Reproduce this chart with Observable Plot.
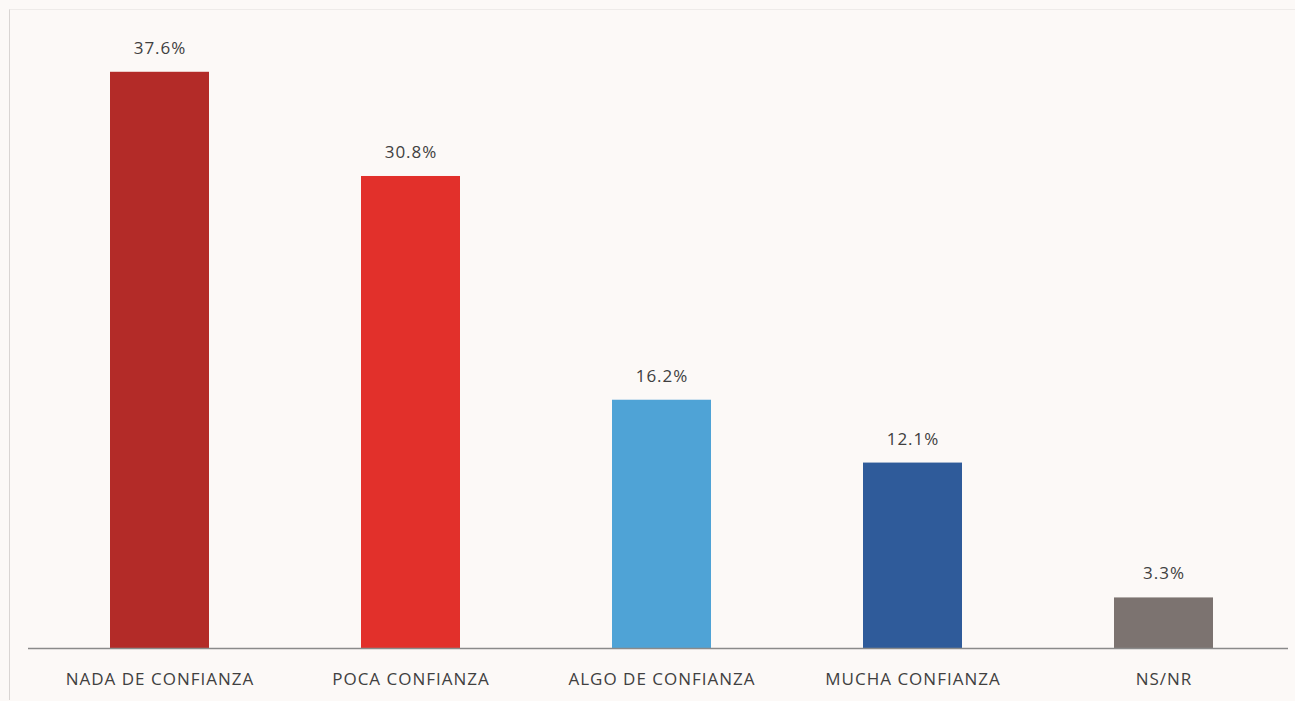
<!DOCTYPE html>
<html>
<head>
<meta charset="utf-8">
<script src="https://cdn.jsdelivr.net/npm/d3@7"></script>
<script src="https://cdn.jsdelivr.net/npm/@observablehq/plot@0.6"></script>
<style>
  html, body { margin: 0; padding: 0; background: #fcf9f7; }
  #wrap { position: relative; width: 1295px; height: 701px; }
  #frame { position: absolute; left: 9px; top: 9px; width: 1290px; height: 690px;
           border-left: 1px solid #d9d5d3; border-top: 1px solid #eeebe9; pointer-events: none; }
  svg { font-family: "Open Sans", "Liberation Sans", sans-serif; }
  svg text { letter-spacing: 1px; }
</style>
</head>
<body>
<div id="wrap"><div id="frame"></div></div>
<script>
const categories = ["NADA DE CONFIANZA", "POCA CONFIANZA", "ALGO DE CONFIANZA", "MUCHA CONFIANZA", "NS/NR"];
const values = [37.6, 30.8, 16.2, 12.1, 3.3];
const valueLabels = ["37.6%", "30.8%", "16.2%", "12.1%", "3.3%"];
const colors = ["#b32b28", "#e2302b", "#4fa3d6", "#2f5b9a", "#7c7370"];

const data = categories.map((c, i) => ({cat: c, value: values[i], label: valueLabels[i]}));

const chart = Plot.plot({
  width: 1295,
  height: 701,
  marginTop: 35,
  marginBottom: 53,
  marginLeft: 28,
  marginRight: 7,
  style: {background: "transparent", fontSize: "17px", color: "#404040"},
  x: {domain: categories, range: [34, 1289], paddingInner: 0.6056, paddingOuter: 0.3028, label: null},
  y: {domain: [0, 40], axis: null},
  color: {domain: categories, range: colors},
  marks: [
    Plot.barY(data, {x: "cat", y: "value", fill: "cat"}),
    Plot.ruleY([0], {stroke: "#8a8a8a", strokeWidth: 1.5}),
    Plot.text(data, {x: "cat", y: "value", text: "label", dy: -24, fill: "#404040", fontSize: 17}),
    Plot.axisX({tickSize: 0, tickPadding: 24, fontSize: 17, fill: "#404040", label: null})
  ]
});
document.getElementById("wrap").prepend(chart);
</script>
</body>
</html>
